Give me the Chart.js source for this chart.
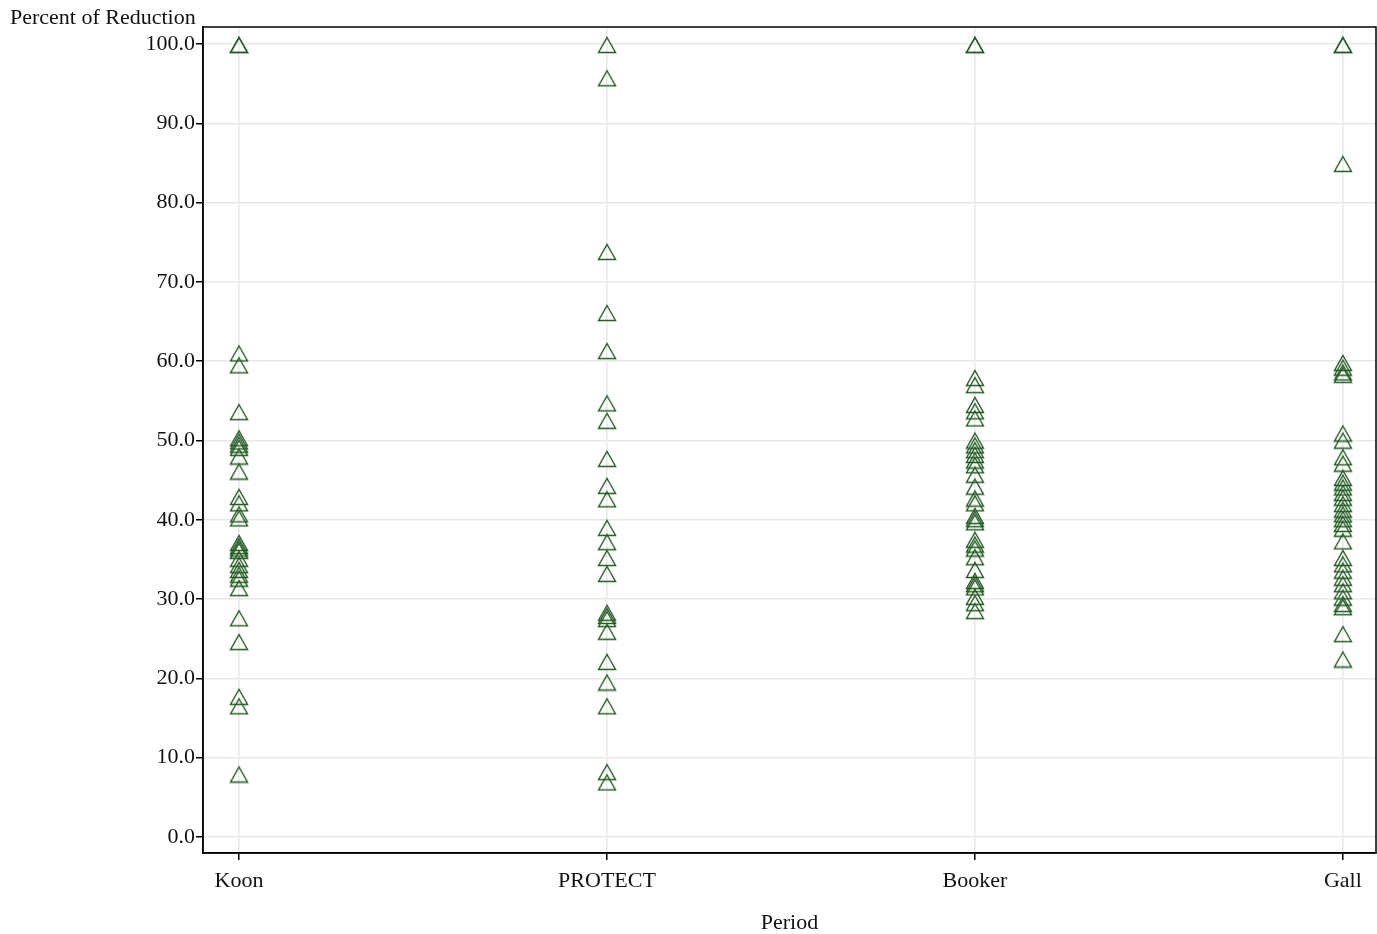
<!DOCTYPE html>
<html>
<head>
<meta charset="utf-8">
<title>Percent of Reduction by Period</title>
<script src="https://cdn.jsdelivr.net/npm/chart.js@4.4.1/dist/chart.umd.min.js"></script>
<style>
  html, body { margin: 0; padding: 0; background: #fff; overflow: hidden; }
  canvas { display: block; }
</style>
</head>
<body>
<canvas id="chart-reduction" width="1377" height="934"></canvas>
<script>
// 各期数据
const categories = ['Koon', 'PROTECT', 'Booker', 'Gall'];

const koonValues = [100, 100, 61.1, 59.6, 53.7, 50.4, 50.0, 49.6, 49.2, 48.1, 46.2, 43.0, 42.2, 40.8, 40.3,
  37.2, 36.8, 36.5, 36.2, 35.2, 34.4, 33.8, 33.2, 32.7, 31.5, 27.7, 24.7, 17.8, 16.6, 8.0];
const protectValues = [100, 95.8, 73.9, 66.2, 61.4, 54.8, 52.6, 47.8, 44.4, 42.7, 39.1, 37.3, 35.3, 33.3,
  28.4, 28.0, 27.6, 26.0, 22.2, 19.6, 16.6, 8.3, 7.0];
const bookerValues = [100, 100, 58.0, 57.1, 54.6, 53.8, 52.9, 50.1, 49.5, 48.9, 48.3, 47.6, 47.0, 45.8, 44.3,
  42.8, 42.2, 40.6, 40.2, 39.8, 37.6, 37.0, 36.5, 35.4, 33.8, 32.4, 32.0, 31.6, 30.4, 29.6, 28.6];
const gallValues = [100, 100, 85.0, 59.9, 59.3, 58.7, 58.4, 51.0, 50.1, 48.0, 47.2, 45.4, 44.8, 44.2, 43.5,
  42.9, 42.1, 41.4, 40.8, 40.2, 39.6, 39.0, 37.4, 35.3, 34.5, 33.7, 32.8, 32.0, 31.1, 30.3, 29.5, 29.1,
  25.7, 22.5];

const yTicks = [0, 10, 20, 30, 40, 50, 60, 70, 80, 90, 100];

const FONT = "'Liberation Serif', 'Times New Roman', serif";
const MARK = '#245c24';

// 空心三角标记
function makeTriangle() {
  const c = document.createElement('canvas');
  c.width = 20; c.height = 20;
  const ctx = c.getContext('2d');
  ctx.strokeStyle = MARK;
  ctx.lineWidth = 1.4;
  ctx.beginPath();
  ctx.moveTo(10, 3.5);
  ctx.lineTo(18.5, 18.5);
  ctx.lineTo(1.5, 18.5);
  ctx.closePath();
  ctx.stroke();
  return c;
}
const triangle = makeTriangle();

const allSeries = [koonValues, protectValues, bookerValues, gallValues];
const datasets = allSeries.map((vals, i) => ({
  label: categories[i],
  data: vals.map(v => ({ x: i, y: v })),
  pointStyle: triangle,
  pointRadius: 9,
  clip: false,
}));

// 外框 + 左上角标题
const framePlugin = {
  id: 'frame',
  afterDraw(chart) {
    const { ctx, chartArea: a } = chart;
    ctx.save();
    ctx.strokeStyle = '#000';
    ctx.lineWidth = 1.5;
    ctx.strokeRect(a.left, a.top, a.right - a.left, a.bottom - a.top);
    ctx.fillStyle = '#111';
    ctx.font = `22px ${FONT}`;
    ctx.textAlign = 'left';
    ctx.textBaseline = 'alphabetic';
    ctx.fillText('Percent of Reduction', 10, 24);
    ctx.restore();
  },
};

new Chart(document.getElementById('chart-reduction'), {
  type: 'scatter',
  data: { datasets },
  options: {
    responsive: false,
    animation: false,
    devicePixelRatio: 1,
    // 关掉 autoPadding，否则点半径会在右侧多留 10px
    layout: { autoPadding: false, padding: { top: 27, right: 1, left: 0, bottom: 0 } },
    plugins: {
      legend: { display: false },
      tooltip: { enabled: false },
    },
    scales: {
      x: {
        type: 'linear',
        min: -0.098,
        max: 3.09,
        afterBuildTicks: s => { s.ticks = categories.map((c, i) => ({ value: i })); },
        afterFit: s => { s.height = 81; },
        ticks: {
          callback: v => categories[v],
          color: '#111',
          font: { family: FONT, size: 22 },
          padding: 8,
          maxRotation: 0,
        },
        grid: { color: '#e8e8e8', lineWidth: 1.5, tickColor: '#000', tickLength: 7 },
        border: { display: true, color: '#000', width: 1.5 },
        title: {
          display: true,
          text: 'Period',
          color: '#111',
          font: { family: FONT, size: 22 },
          padding: { top: 0, bottom: -2 },
        },
      },
      y: {
        min: -2.02,
        max: 102.14,
        afterBuildTicks: s => { s.ticks = yTicks.map(v => ({ value: v })); },
        afterFit: s => { s.width = 203; },
        ticks: {
          callback: v => Number(v).toFixed(1),
          color: '#111',
          font: { family: FONT, size: 22 },
          padding: 1,
        },
        grid: { color: '#e8e8e8', lineWidth: 1.5, tickColor: '#000', tickLength: 7 },
        border: { display: true, color: '#000', width: 1.5 },
      },
    },
  },
  plugins: [framePlugin],
});
</script>
</body>
</html>
